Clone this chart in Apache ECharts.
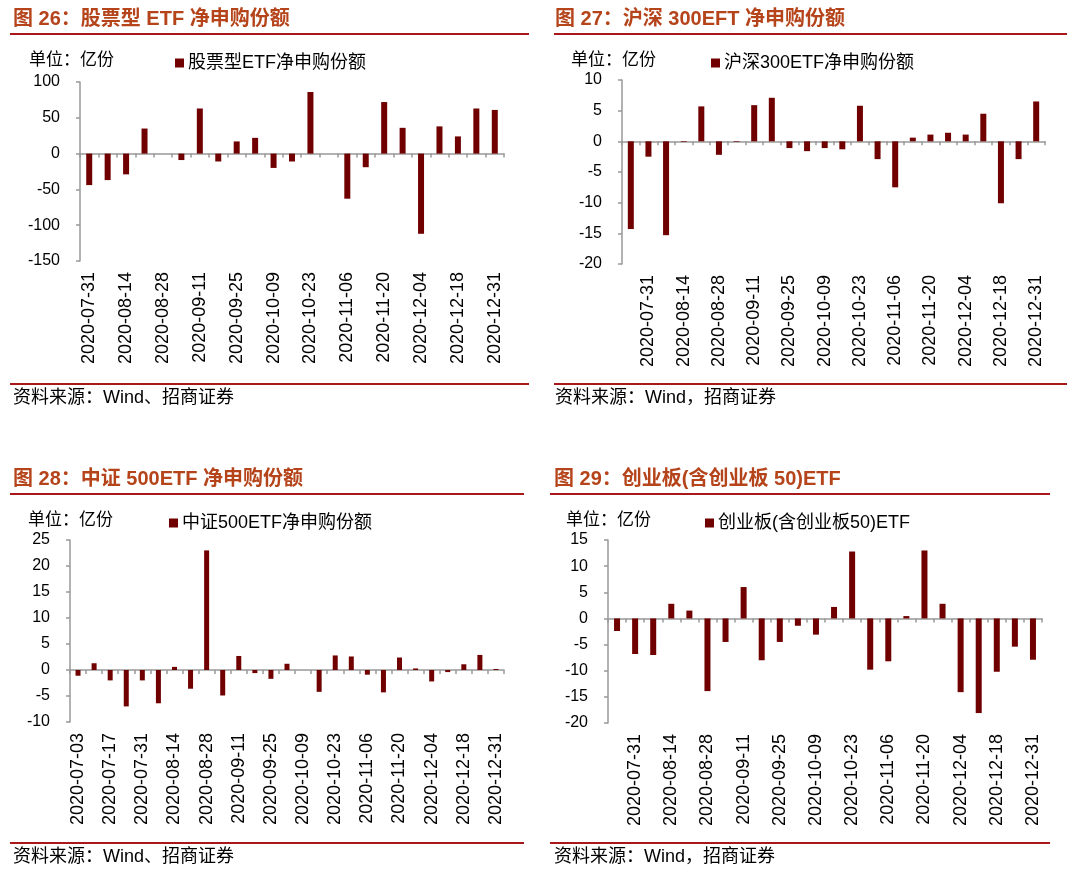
<!DOCTYPE html>
<html><head><meta charset="utf-8">
<script src="https://cdn.jsdelivr.net/npm/echarts@6/dist/echarts.min.js"></script>
<style>html,body{margin:0;padding:0;background:#fff}#c{width:1080px;height:873px}</style>
</head><body><div id="c"></div>
<script>
// ---- data ----
const cats1 = ['2020-07-31','2020-08-07','2020-08-14','2020-08-21','2020-08-28','2020-09-04','2020-09-11','2020-09-18','2020-09-25','2020-09-30','2020-10-09','2020-10-16','2020-10-23','2020-10-30','2020-11-06','2020-11-13','2020-11-20','2020-11-27','2020-12-04','2020-12-11','2020-12-18','2020-12-25','2020-12-31'];
const vals1 = [-44,-37,-29,35,0,-9,63,-11,17,22,-20,-11,86,0,-63,-19,72,36,-112,38,24,63,61];

const cats2 = ['2020-07-24','2020-07-31','2020-08-07','2020-08-14','2020-08-21','2020-08-28','2020-09-04','2020-09-11','2020-09-18','2020-09-25','2020-09-30','2020-10-09','2020-10-16','2020-10-23','2020-10-30','2020-11-06','2020-11-13','2020-11-20','2020-11-27','2020-12-04','2020-12-11','2020-12-18','2020-12-25','2020-12-31'];
const vals2 = [-14.3,-2.5,-15.3,-0.1,5.7,-2.2,-0.1,5.9,7.1,-1.1,-1.6,-1.1,-1.3,5.8,-2.9,-7.5,0.6,1.1,1.4,1.1,4.5,-10.1,-2.9,6.5];

const cats3 = ['2020-07-03','2020-07-10','2020-07-17','2020-07-24','2020-07-31','2020-08-07','2020-08-14','2020-08-21','2020-08-28','2020-09-04','2020-09-11','2020-09-18','2020-09-25','2020-09-30','2020-10-09','2020-10-16','2020-10-23','2020-10-30','2020-11-06','2020-11-13','2020-11-20','2020-11-27','2020-12-04','2020-12-11','2020-12-18','2020-12-25','2020-12-31'];
const vals3 = [-1.1,1.3,-2.0,-7.0,-2.0,-6.4,0.6,-3.6,23.0,-4.9,2.7,-0.6,-1.7,1.2,0,-4.2,2.8,2.6,-0.9,-4.3,2.4,0.3,-2.2,-0.4,1.1,2.9,0.2];

const cats4 = cats2;
const vals4 = [-2.4,-6.8,-7.0,2.8,1.5,-13.9,-4.5,6.0,-8.0,-4.5,-1.4,-3.1,2.2,12.8,-9.8,-8.2,0.45,13.0,2.8,-14.1,-18.1,-10.2,-5.4,-7.9];

const titles = ['图 26：股票型 ETF 净申购份额','图 27：沪深 300EFT 净申购份额','图 28：中证 500ETF 净申购份额','图 29：创业板(含创业板 50)ETF'];
const names = ['股票型ETF净申购份额','沪深300ETF净申购份额','中证500ETF净申购份额','创业板(含创业板50)ETF'];
const sources = ['资料来源：Wind、招商证券','资料来源：Wind，招商证券','资料来源：Wind、招商证券','资料来源：Wind，招商证券'];
const unitText = '单位：亿份';
const yRanges = [[-150,100,50],[-20,10,5],[-10,25,5],[-20,15,5]];

// ---- layout / style ----
const CATS = [cats1,cats2,cats3,cats4];
const VALS = [vals1,vals2,vals3,vals4];
const labelParity = [0,1,0,1];
const grids = [
  {left:80, top:82, width:424, height:179},
  {left:622, top:80, width:423, height:184},
  {left:70, top:540, width:434, height:182},
  {left:608, top:540, width:434, height:183}
];
const panels = [
  {x0:13, lineL:10, lineR:529, titleY:20, lineY:34, unitX:29, unitY:61, legX:175, legY:54, footLineY:384, footY:398, barW:6},
  {x0:555, lineL:554, lineR:1067, titleY:20, lineY:34, unitX:571, unitY:61, legX:711, legY:54, footLineY:384, footY:398, barW:6},
  {x0:13, lineL:10, lineR:524, titleY:480, lineY:494, unitX:28, unitY:521, legX:169, legY:514, footLineY:843, footY:857, barW:5},
  {x0:554, lineL:550, lineR:1050, titleY:480, lineY:494, unitX:566, unitY:521, legX:705, legY:514, footLineY:843, footY:857, barW:6}
];
const BAR = '#700000';
const AXIS = '#999999';
const RED = '#A8171A';
const TITLE = '#B5441B';
const FONT = '"Liberation Sans", Arial, "Noto Sans CJK SC", sans-serif';

const xAxis = [], yAxis = [], series = [], legend = [], graphic = [];
for (let i = 0; i < 4; i++) {
  xAxis.push({
    gridIndex:i, type:'category', data:CATS[i], position:'bottom',
    axisLine:{onZero:true, lineStyle:{color:AXIS, width:1.5}},
    axisTick:{show:true, interval:0, length:4, lineStyle:{color:AXIS, width:1.5}},
    axisLabel:{show:false}, splitLine:{show:false}
  });
  xAxis.push({
    gridIndex:i, type:'category', data:CATS[i], position:'bottom',
    axisLine:{show:false, onZero:false}, axisTick:{show:false},
    axisLabel:{show:true, rotate:90, margin:11, fontSize:18, color:'#000', fontFamily:FONT,
      interval:(idx)=> idx % 2 === labelParity[i]},
    splitLine:{show:false}
  });
  const r = yRanges[i];
  yAxis.push({
    gridIndex:i, type:'value', min:r[0], max:r[1], interval:r[2],
    axisLine:{show:true, lineStyle:{color:AXIS, width:1.5}},
    axisTick:{show:true, length:4, lineStyle:{color:AXIS, width:1.5}},
    axisLabel:{fontSize:16, margin:20, color:'#000', fontFamily:FONT},
    splitLine:{show:false}
  });
  series.push({
    type:'bar', name:names[i], xAxisIndex:2*i, yAxisIndex:i, data:VALS[i],
    barWidth:panels[i].barW, itemStyle:{color:BAR}, silent:true
  });
  const p = panels[i];
  legend.push({
    data:[names[i]], left:p.legX, top:p.legY, padding:0, itemWidth:9, itemHeight:9, itemGap:0,
    icon:'rect', selectedMode:false,
    textStyle:{fontSize:18, color:'#000', fontFamily:FONT, padding:[0,0,0,-1]}
  });
  graphic.push(
    {type:'text', left:p.x0, top:p.titleY-11, style:{text:titles[i], fill:TITLE, font:'bold 20px '+FONT}},
    {type:'rect', shape:{x:p.lineL, y:p.lineY-1, width:p.lineR-p.lineL, height:2}, style:{fill:RED}},
    {type:'text', left:p.unitX, top:p.unitY-9, style:{text:unitText, fill:'#000', font:'17px '+FONT}},
    {type:'rect', shape:{x:p.lineL, y:p.footLineY-1, width:p.lineR-p.lineL, height:2}, style:{fill:RED}},
    {type:'text', left:p.x0, top:p.footY-9, style:{text:sources[i], fill:'#000', font:'18px '+FONT}}
  );
}

const chart = echarts.init(document.getElementById('c'), null, {renderer:'canvas'});
chart.setOption({
  backgroundColor:'#fff', animation:false,
  grid:grids.map(g=>Object.assign({containLabel:false}, g)),
  xAxis, yAxis, series, legend, graphic
});
</script></body></html>
